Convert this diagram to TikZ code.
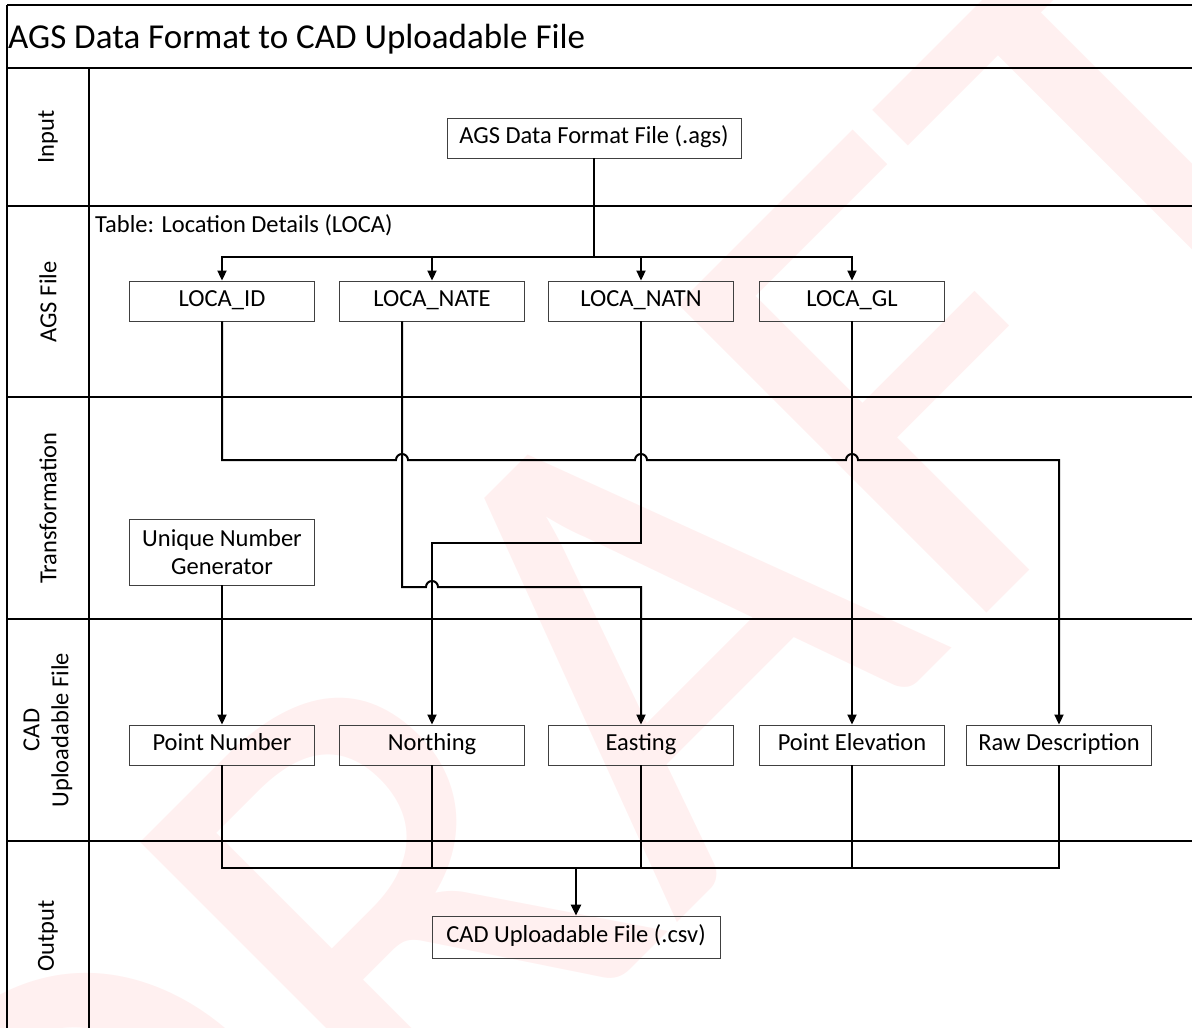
\documentclass[tikz,border=0pt]{standalone}
\usepackage{fontspec}
\setmainfont{Carlito}
\usetikzlibrary{arrows.meta,calc}
\begin{document}
\begin{tikzpicture}[x=1pt,y=-1pt,
  laneline/.style={line width=1.8pt,black},
  colline/.style={line width=1.2pt,black},
  databox/.style={draw=black!75,line width=0.9pt,minimum width=185pt,minimum height=40pt,inner sep=0pt,font=\fontsize{24.5}{28}\selectfont,align=center,text height=16pt,text depth=5pt},
  lanelbl/.style={font=\fontsize{24.5}{29}\selectfont,rotate=90,align=center,inner sep=0pt},
  conn/.style={line width=2pt,black},
  arr/.style={conn,-{Triangle[length=10pt,width=9pt]}},
  trunk/.style={line width=2.8pt,black},
  watermark/.style={rotate=45,text=red!6,anchor=base west,inner sep=0pt,font=\fontsize{680}{680}\selectfont}]
\useasboundingbox (0,0) rectangle (1192,1028);
% watermark
\node[watermark] (wm) at (119,1481) {DRAFT};
% frame
\draw[laneline] (7,5) -- (1192,5);
\draw[laneline] (7,5) -- (7,1028);
\foreach \yy in {68,206,397,619,841} \draw[laneline] (7,\yy) -- (1192,\yy);
\draw[colline] (89,68) -- (89,1028);
% title
\node[anchor=base west,font=\fontsize{35}{40}\selectfont,inner sep=0pt] (title) at (8,48) {AGS Data Format to CAD Uploadable File};
% lane labels
\node[lanelbl] (l1) at (48,137) {Input};
\node[lanelbl] (l2) at (48,302) {AGS File};
\node[lanelbl] (l3) at (48,508) {Transformation};
\node[lanelbl] (l4) at (48,730) {CAD\\Uploadable File};
\node[lanelbl] (l5) at (48,936) {Output};
\node[anchor=base west,font=\fontsize{24.5}{28}\selectfont,inner sep=0pt] (tbl) at (95,232) {Table: Location Details (LOCA)};
% boxes
\node[databox,minimum width=294pt] (ags) at (594,138) {AGS Data Format File (.ags)};
\node[databox] (locaid) at (222,301) {LOCA\_ID};
\node[databox] (nate) at (432,301) {LOCA\_NATE};
\node[databox] (natn) at (641,301) {LOCA\_NATN};
\node[databox] (gl) at (852,301) {LOCA\_GL};
\node[databox,minimum height=66pt,text height=,text depth=] (ung) at (222,552) {Unique Number\\Generator};
\node[databox] (pnum) at (222,745) {Point Number};
\node[databox] (northing) at (432,745) {Northing};
\node[databox] (easting) at (641,745) {Easting};
\node[databox] (pelev) at (852,745) {Point Elevation};
\node[databox] (rawdesc) at (1059,745) {Raw Description};
\node[databox,minimum width=288pt,minimum height=42pt] (csv) at (576,937) {CAD Uploadable File (.csv)};
% input to AGS file
\coordinate (agsbus) at (594,257);
\draw[trunk] (ags.south) -- (agsbus);
\draw[arr] (agsbus) -| (locaid.north);
\draw[arr] (agsbus) -| (nate.north);
\draw[arr] (agsbus) -| (natn.north);
\draw[arr] (agsbus) -| (gl.north);
% transformation
\draw[arr] (locaid.south) -- (222,460) -- (396,460) arc[start angle=180,end angle=0,radius=6pt]
  -- (635,460) arc[start angle=180,end angle=0,radius=6pt]
  -- (846,460) arc[start angle=180,end angle=0,radius=6pt] -| (rawdesc.north);
\draw[arr] ([xshift=-30pt]nate.south) -- (402,587) -- (426,587) arc[start angle=180,end angle=0,radius=6pt] -| (easting.north);
\draw[arr] (natn.south) -- (641,543) -| (northing.north);
\draw[arr] (gl.south) -- (pelev.north);
\draw[arr] (ung.south) -- (pnum.north);
% output
\coordinate (bus) at (576,868);
\draw[conn] (pnum.south) |- (bus) -| (rawdesc.south);
\draw[conn] (northing.south) -- (northing.south |- bus);
\draw[conn] (easting.south) -- (easting.south |- bus);
\draw[conn] (pelev.south) -- (pelev.south |- bus);
\draw[trunk,-{Triangle[length=11pt,width=10pt]}] (bus) -- (csv.north);
\end{tikzpicture}
\end{document}
